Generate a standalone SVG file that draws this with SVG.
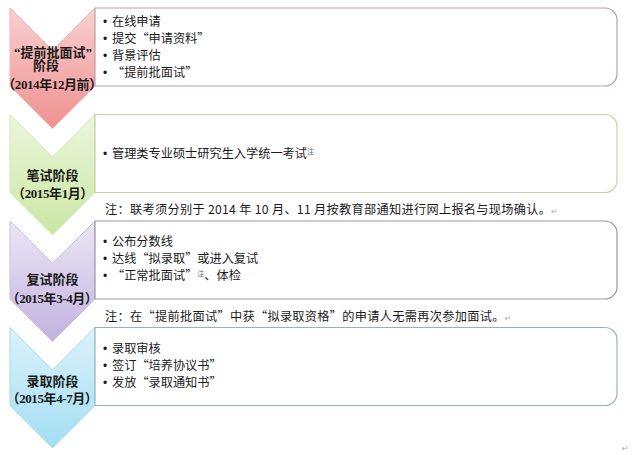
<svg xmlns="http://www.w3.org/2000/svg" width="640" height="455" viewBox="0 0 640 455">
<defs>
<linearGradient id="gPink" x1="0" y1="0" x2="0" y2="1"><stop offset="0" stop-color="#f9d0d0"/><stop offset="1" stop-color="#f09090"/></linearGradient>
<linearGradient id="gGreen" x1="0" y1="0" x2="0" y2="1"><stop offset="0" stop-color="#ecf6dc"/><stop offset="1" stop-color="#c9e7a2"/></linearGradient>
<linearGradient id="gPurple" x1="0" y1="0" x2="0" y2="1"><stop offset="0" stop-color="#ece6f5"/><stop offset="1" stop-color="#c2b2e0"/></linearGradient>
<linearGradient id="gBlue" x1="0" y1="0" x2="0" y2="1"><stop offset="0" stop-color="#dcf2fa"/><stop offset="1" stop-color="#a2def3"/></linearGradient>
<style>
.chev{stroke-width:1}
.box{fill:#ffffff;stroke-width:1.2}
.ct{font-family:"Liberation Serif","Noto Sans CJK SC",serif;font-weight:bold;font-size:13px;fill:#1a1a1a;text-anchor:middle}
.pr{font-feature-settings:"halt" 1;letter-spacing:-0.4px}
.bt{font-family:"Noto Sans CJK SC","Liberation Sans",sans-serif;font-size:12.2px;fill:#1a1a1a}
.bu{font-family:"Liberation Sans",sans-serif;font-size:12px;fill:#1a1a1a}
.nt{letter-spacing:0.3px}
.q{font-feature-settings:"fwid" 1}
.sup{font-size:7px;fill:#666666;letter-spacing:0}
.ret{font-family:"DejaVu Sans",sans-serif;font-size:8px;fill:#aaaaaa;letter-spacing:0}
</style>
</defs>
<rect width="640" height="455" fill="#ffffff"/>
<g id="connectors"/>
<g id="stage1">
<path class="chev" d="M10,8 L52.5,50.5 L95,8 V86 L52.5,128.5 L10,86 Z" fill="url(#gPink)" stroke="#f3b2b2"/>
<path class="box" d="M95,8 H605 A12,12 0 0 1 617,20 V74 A12,12 0 0 1 605,86 H95 Z" stroke="#b9a0a2"/>
<text class="ct" x="53" y="56.5">“提前批面试”</text>
<text class="ct" x="46" y="70">阶段</text>
<text class="ct pr" x="52" y="88.5">（2014年12月前）</text>
<text class="bu" x="103" y="25.5">•</text><text class="bt" x="112" y="25.5">在线申请</text>
<text class="bu" x="103" y="42.5">•</text><text class="bt" x="112" y="42.5">提交<tspan class="q">“</tspan>申请资料<tspan class="q">”</tspan></text>
<text class="bu" x="103" y="59.5">•</text><text class="bt" x="112" y="59.5">背景评估</text>
<text class="bu" x="103" y="76.5">•</text><text class="bt" x="112" y="76.5"><tspan class="q">“</tspan>提前批面试<tspan class="q">”</tspan></text>
</g>
<g id="stage2">
<path class="chev" d="M10,114.5 L52.5,157 L95,114.5 V192.5 L52.5,235 L10,192.5 Z" fill="url(#gGreen)" stroke="#d2e8b4"/>
<path class="box" d="M95,114.5 H605 A12,12 0 0 1 617,126.5 V180.5 A12,12 0 0 1 605,192.5 H95 Z" stroke="#c6cfa6"/>
<text class="ct" x="52.5" y="179.5">笔试阶段</text>
<text class="ct pr" x="52.5" y="197.5">（2015年1月）</text>
<text class="bu" x="103" y="157.5">•</text><text class="bt" x="112" y="157.5">管理类专业硕士研究生入学统一考试<tspan class="sup" dy="-4">注</tspan></text>
</g>
<g id="note1">
<text class="bt nt" x="105" y="214">注：联考须分别于 2014 年 10 月、11 月按教育部通知进行网上报名与现场确认。<tspan class="ret">↵</tspan></text>
</g>
<g id="stage3">
<path class="chev" d="M10,221 L52.5,263.5 L95,221 V299 L52.5,341.5 L10,299 Z" fill="url(#gPurple)" stroke="#c9bde2"/>
<path class="box" d="M95,221 H605 A12,12 0 0 1 617,233 V287 A12,12 0 0 1 605,299 H95 Z" stroke="#9d96a8"/>
<text class="ct" x="52.5" y="283.5">复试阶段</text>
<text class="ct pr" x="52" y="302.5">（2015年3-4月）</text>
<text class="bu" x="103" y="245.5">•</text><text class="bt" x="112" y="245.5">公布分数线</text>
<text class="bu" x="103" y="262.5">•</text><text class="bt" x="112" y="262.5">达线<tspan class="q">“</tspan>拟录取<tspan class="q">”</tspan>或进入复试</text>
<text class="bu" x="103" y="279.5">•</text><text class="bt" x="112" y="279.5"><tspan class="q">“</tspan>正常批面试<tspan class="q">”</tspan><tspan class="sup" dy="-4">注</tspan><tspan dy="4">、体检</tspan></text>
</g>
<g id="note2">
<text class="bt nt" x="105" y="321">注：在<tspan class="q">“</tspan>提前批面试<tspan class="q">”</tspan>中获<tspan class="q">“</tspan>拟录取资格<tspan class="q">”</tspan>的申请人无需再次参加面试。<tspan class="ret">↵</tspan></text>
</g>
<g id="stage4">
<path class="chev" d="M10,327.5 L52.5,370 L95,327.5 V405.5 L52.5,448 L10,405.5 Z" fill="url(#gBlue)" stroke="#a9d9ea"/>
<path class="box" d="M95,327.5 H605 A12,12 0 0 1 617,339.5 V393.5 A12,12 0 0 1 605,405.5 H95 Z" stroke="#8fb6bf"/>
<text class="ct" x="52.5" y="386">录取阶段</text>
<text class="ct pr" x="52" y="403">（2015年4-7月）</text>
<text class="bu" x="103" y="352.5">•</text><text class="bt" x="112" y="352.5">录取审核</text>
<text class="bu" x="103" y="369.5">•</text><text class="bt" x="112" y="369.5">签订<tspan class="q">“</tspan>培养协议书<tspan class="q">”</tspan></text>
<text class="bu" x="103" y="386.5">•</text><text class="bt" x="112" y="386.5">发放<tspan class="q">“</tspan>录取通知书<tspan class="q">”</tspan></text>
</g>
<text class="ret" x="622" y="451">↵</text>
</svg>
